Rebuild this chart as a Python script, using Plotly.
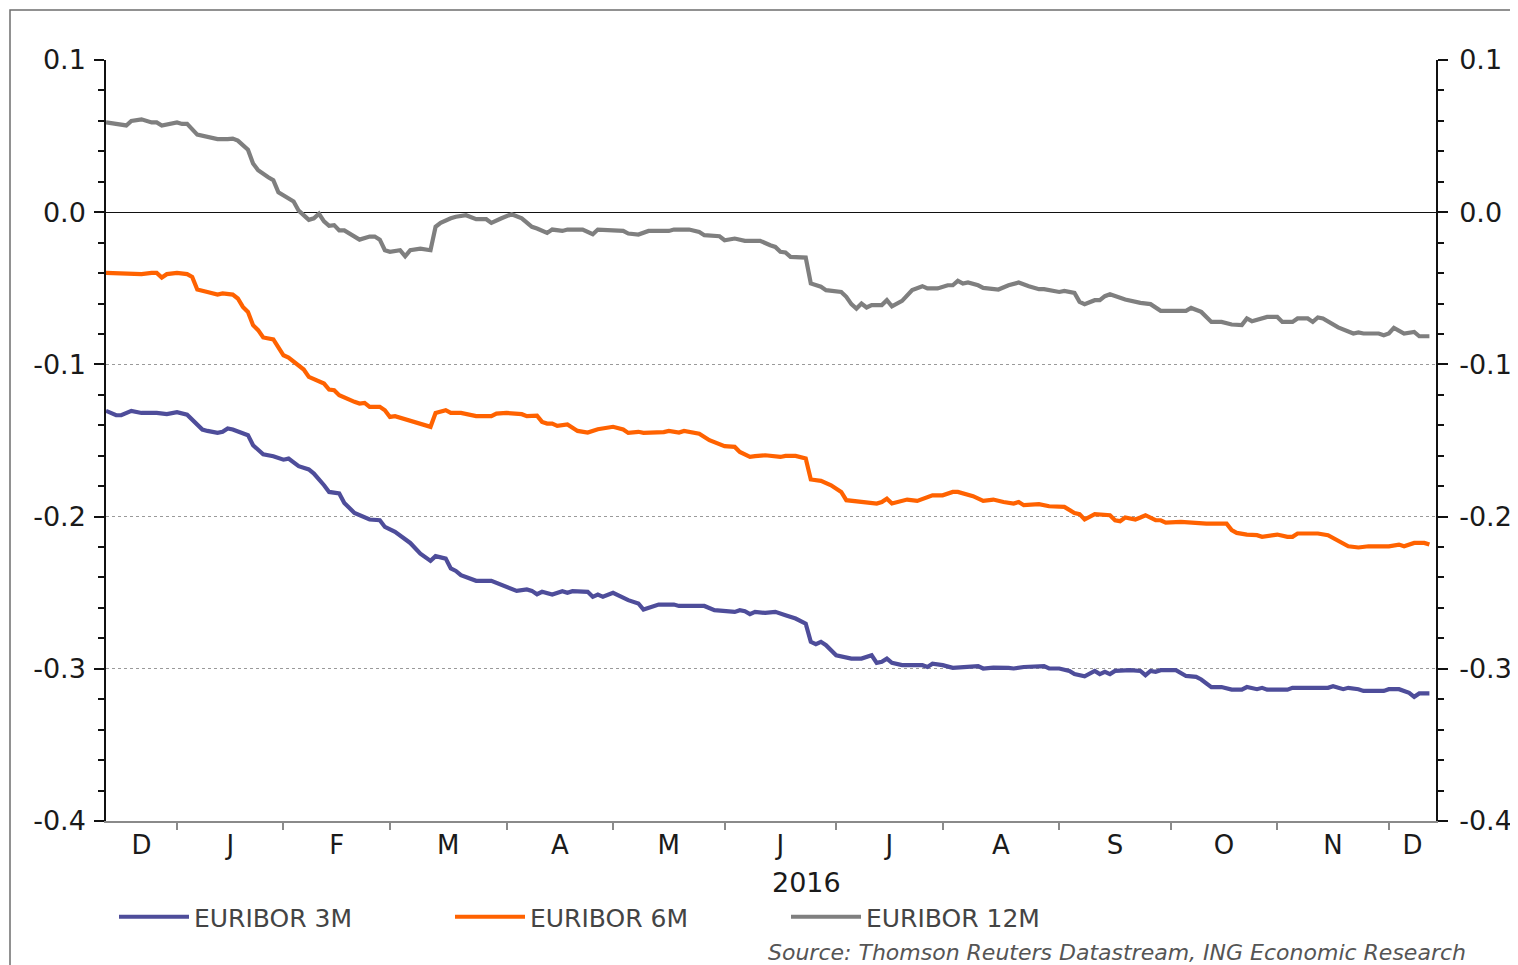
import pandas as pd
import plotly.graph_objects as go

# ---------------- data (business-day offsets from START, values in %) ----------------
START = "2015-12-14"
END_OFFSET = 262.3  # visible x range in business days

days_3m = [0, 2, 3, 5, 7, 10, 12, 14, 16, 17, 19, 20, 22, 23, 24, 25, 27, 28, 29, 31, 33, 35, 36, 38, 40, 41,
           43, 44, 46, 47, 49, 51, 52, 54, 55, 57, 59, 60, 62, 64, 65, 67, 68, 69, 70, 73, 76, 78, 81, 83, 84,
           85, 86, 88, 90, 91, 92, 95, 96, 97, 98, 100, 103, 105, 106, 109, 112, 113, 118, 120, 122, 124, 125,
           126, 127, 128, 130, 132, 134, 136, 138, 139, 140, 141, 142, 144, 147, 149, 151, 152, 153, 154, 155,
           157, 161, 162, 163, 165, 167, 172, 173, 175, 178, 179, 181, 185, 186, 188, 190, 191, 193, 195, 196,
           197, 198, 199, 202, 204, 205, 206, 207, 208, 211, 213, 215, 216, 218, 220, 222, 224, 225, 227, 228,
           229, 233, 234, 241, 242, 244, 245, 247, 248, 252, 253, 255, 257, 258, 259, 261]
vals_3m = [-0.1305, -0.1334, -0.1334, -0.1305, -0.1319, -0.1319, -0.1327, -0.1314, -0.1330, -0.1362, -0.1428,
           -0.1437, -0.1450, -0.1443, -0.1421, -0.1428, -0.1450, -0.1465, -0.1531, -0.1590, -0.1603, -0.1626,
           -0.1619, -0.1669, -0.1690, -0.1717, -0.1794, -0.1838, -0.1848, -0.1910, -0.1976, -0.2002, -0.2019,
           -0.2024, -0.2068, -0.2100, -0.2144, -0.2173, -0.2243, -0.2291, -0.2260, -0.2276, -0.2341, -0.2357,
           -0.2385, -0.2422, -0.2422, -0.2451, -0.2488, -0.2479, -0.2488, -0.2510, -0.2494, -0.2512, -0.2490,
           -0.2501, -0.2490, -0.2494, -0.2527, -0.2512, -0.2527, -0.2501, -0.2549, -0.2571, -0.2611, -0.2578,
           -0.2578, -0.2587, -0.2587, -0.2615, -0.2620, -0.2626, -0.2615, -0.2622, -0.2641, -0.2626, -0.2633,
           -0.2626, -0.2648, -0.2670, -0.2703, -0.2823, -0.2838, -0.2823, -0.2845, -0.2911, -0.2933, -0.2933,
           -0.2911, -0.2961, -0.2954, -0.2933, -0.2961, -0.2976, -0.2976, -0.2988, -0.2966, -0.2976, -0.2994,
           -0.2983, -0.2998, -0.2992, -0.2994, -0.2998, -0.2988, -0.2983, -0.2998, -0.2998, -0.3014, -0.3035,
           -0.3049, -0.3014, -0.3035, -0.3020, -0.3035, -0.3014, -0.3009, -0.3014, -0.3042, -0.3014, -0.3020,
           -0.3009, -0.3009, -0.3047, -0.3053, -0.3070, -0.3120, -0.3120, -0.3137, -0.3137, -0.3120, -0.3134,
           -0.3125, -0.3137, -0.3137, -0.3125, -0.3125, -0.3114, -0.3134, -0.3125, -0.3134, -0.3145, -0.3145,
           -0.3134, -0.3134, -0.3158, -0.3184, -0.3162, -0.3162]

days_6m = [0, 7, 9, 10, 11, 12, 14, 16, 17, 18, 20, 22, 23, 25, 26, 27, 28, 29, 30, 31, 33, 34, 35, 36, 37, 39,
           40, 42, 43, 44, 45, 46, 47, 49, 50, 51, 52, 54, 55, 56, 57, 59, 60, 62, 64, 65, 66, 67, 68, 70, 73,
           76, 77, 79, 82, 83, 85, 86, 87, 88, 89, 91, 93, 95, 97, 100, 102, 103, 105, 106, 110, 111, 113, 114,
           117, 119, 122, 124, 125, 127, 128, 130, 133, 134, 136, 138, 139, 141, 143, 145, 146, 148, 150, 152,
           153, 154, 155, 157, 158, 160, 162, 163, 165, 167, 168, 170, 171, 173, 175, 177, 179, 180, 181, 184,
           186, 189, 191, 192, 193, 195, 198, 199, 200, 201, 203, 204, 205, 207, 208, 209, 212, 217, 221, 222,
           223, 225, 227, 228, 231, 233, 234, 235, 239, 241, 243, 245, 247, 249, 253, 255, 256, 258, 260, 261]
vals_6m = [-0.0399, -0.0407, -0.0399, -0.0399, -0.0429, -0.0407, -0.0399, -0.0407, -0.0425, -0.0508, -0.0524,
           -0.0541, -0.0534, -0.0541, -0.0567, -0.0622, -0.0655, -0.0742, -0.0775, -0.0823, -0.0836, -0.0885,
           -0.0940, -0.0955, -0.0983, -0.1034, -0.1082, -0.1115, -0.1126, -0.1165, -0.1170, -0.1202, -0.1218,
           -0.1246, -0.1257, -0.1253, -0.1279, -0.1279, -0.1301, -0.1345, -0.1340, -0.1362, -0.1367, -0.1389,
           -0.1410, -0.1319, -0.1312, -0.1301, -0.1319, -0.1319, -0.1340, -0.1340, -0.1323, -0.1319, -0.1327,
           -0.1340, -0.1337, -0.1378, -0.1389, -0.1389, -0.1404, -0.1395, -0.1437, -0.1448, -0.1426, -0.1410,
           -0.1428, -0.1450, -0.1443, -0.1450, -0.1445, -0.1437, -0.1448, -0.1437, -0.1455, -0.1498, -0.1537,
           -0.1542, -0.1575, -0.1608, -0.1603, -0.1597, -0.1608, -0.1601, -0.1601, -0.1618, -0.1756, -0.1765,
           -0.1794, -0.1838, -0.1892, -0.1899, -0.1910, -0.1914, -0.1904, -0.1882, -0.1914, -0.1897, -0.1888,
           -0.1897, -0.1875, -0.1860, -0.1860, -0.1838, -0.1838, -0.1853, -0.1866, -0.1897, -0.1888, -0.1904,
           -0.1914, -0.1904, -0.1925, -0.1918, -0.1932, -0.1936, -0.1976, -0.1984, -0.2019, -0.1984, -0.1991,
           -0.2024, -0.2030, -0.2006, -0.2019, -0.2006, -0.1991, -0.2024, -0.2024, -0.2039, -0.2035, -0.2046,
           -0.2046, -0.2089, -0.2107, -0.2118, -0.2122, -0.2133, -0.2118, -0.2133, -0.2133, -0.2111, -0.2111,
           -0.2122, -0.2160, -0.2195, -0.2203, -0.2195, -0.2195, -0.2184, -0.2195, -0.2173, -0.2173, -0.2184]

days_12m = [0, 4, 5, 7, 9, 10, 11, 14, 15, 16, 18, 20, 22, 24, 25, 26, 27, 28, 29, 30, 32, 33, 34, 36, 37, 38,
            40, 41, 42, 43, 44, 45, 46, 47, 49, 50, 52, 53, 54, 55, 56, 58, 59, 60, 62, 64, 65, 66, 68, 69, 71,
            73, 75, 76, 78, 80, 82, 84, 85, 87, 88, 90, 91, 94, 96, 97, 102, 103, 105, 107, 111, 112, 115, 117,
            118, 121, 122, 124, 126, 129, 131, 132, 133, 134, 135, 138, 139, 141, 142, 144, 145, 146, 147, 148,
            149, 150, 151, 153, 154, 155, 157, 159, 161, 162, 164, 166, 167, 168, 169, 170, 172, 173, 175, 176,
            178, 180, 182, 184, 185, 188, 189, 191, 192, 193, 195, 196, 197, 198, 201, 202, 204, 206, 208, 213,
            214, 216, 218, 220, 222, 224, 225, 226, 228, 229, 231, 232, 234, 235, 237, 238, 239, 240, 243, 246,
            247, 248, 251, 252, 253, 254, 256, 258, 259, 261]
vals_12m = [0.0590, 0.0570, 0.0600, 0.0610, 0.0590, 0.0590, 0.0570, 0.0590, 0.0580, 0.0580, 0.0510, 0.0495,
            0.0480, 0.0480, 0.0484, 0.0470, 0.0440, 0.0410, 0.0320, 0.0276, 0.0230, 0.0210, 0.0130, 0.0090,
            0.0070, 0.0010, -0.0050, -0.0040, -0.0010, -0.0060, -0.0090, -0.0085, -0.0120, -0.0120, -0.0160,
            -0.0180, -0.0160, -0.0160, -0.0180, -0.0250, -0.0260, -0.0250, -0.0290, -0.0250, -0.0240, -0.0250,
            -0.0096, -0.0070, -0.0040, -0.0030, -0.0020, -0.0046, -0.0046, -0.0070, -0.0040, -0.0013, -0.0040,
            -0.0096, -0.0107, -0.0136, -0.0114, -0.0123, -0.0114, -0.0114, -0.0145, -0.0114, -0.0123, -0.0140,
            -0.0147, -0.0123, -0.0123, -0.0114, -0.0114, -0.0130, -0.0151, -0.0158, -0.0184, -0.0173, -0.0188,
            -0.0188, -0.0217, -0.0228, -0.0260, -0.0265, -0.0294, -0.0298, -0.0468, -0.0490, -0.0512, -0.0520,
            -0.0524, -0.0556, -0.0604, -0.0633, -0.0600, -0.0626, -0.0610, -0.0610, -0.0578, -0.0618, -0.0583,
            -0.0512, -0.0486, -0.0501, -0.0501, -0.0480, -0.0480, -0.0451, -0.0469, -0.0462, -0.0480, -0.0497,
            -0.0501, -0.0508, -0.0480, -0.0462, -0.0486, -0.0506, -0.0506, -0.0524, -0.0517, -0.0530, -0.0589,
            -0.0604, -0.0578, -0.0578, -0.0552, -0.0539, -0.0574, -0.0583, -0.0596, -0.0604, -0.0648, -0.0648,
            -0.0629, -0.0655, -0.0721, -0.0721, -0.0738, -0.0742, -0.0698, -0.0716, -0.0698, -0.0688, -0.0688,
            -0.0721, -0.0721, -0.0698, -0.0698, -0.0721, -0.0692, -0.0698, -0.0757, -0.0797, -0.0790, -0.0797,
            -0.0797, -0.0808, -0.0797, -0.0760, -0.0797, -0.0787, -0.0815, -0.0815]

series_names = ["EURIBOR 3M", "EURIBOR 6M", "EURIBOR 12M"]
series_colors = ["#4e4d9a", "#ff6200", "#7f7f7f"]
series_axes = ["y", "y", "y2"]  # y2 mirrors y exactly (right-hand scale)

y_ticks = [-0.4, -0.3, -0.2, -0.1, 0.0, 0.1]
y_ticktext = ["-0.4", "-0.3", "-0.2", "-0.1", "0.0", "0.1"]
year_label = "2016"
source_text = "Source: Thomson Reuters Datastream, ING Economic Research"

# ---------------- helpers ----------------
bd = pd.bdate_range(START, periods=300)


def to_date(f):
    i = int(f)
    return bd[i] + pd.Timedelta(days=f - i)


# month boundaries and label centres (business-day positions)
n_vis = int(END_OFFSET) + 1
bounds = [0]
for i in range(1, n_vis):
    if bd[i].month != bd[i - 1].month:
        bounds.append(i)
edges = bounds + [END_OFFSET]
month_mid = [to_date((edges[k] + edges[k + 1]) / 2) for k in range(len(bounds))]
month_letter = [bd[b].strftime("%b")[0] for b in bounds]
month_start = [bd[b] for b in bounds[1:]]
year_start = next(b for b in bounds if bd[b].year == 2016)

FONT = "DejaVu Sans"

fig = go.Figure()
for name, color, ax, d, v in zip(series_names, series_colors, series_axes,
                                 [days_3m, days_6m, days_12m], [vals_3m, vals_6m, vals_12m]):
    fig.add_trace(go.Scatter(x=[bd[i] for i in d], y=v, mode="lines", name=name, yaxis=ax,
                             line=dict(color=color, width=4.2)))

# the page body has an 8px margin, so the figure is drawn 8px in from the window corner
OFF = 8
W, H = 1518 - OFF, 965 - OFF
ml, mt = 106 - OFF, 60 - OFF
pw, ph = 1330, 761
mr, mb = W - ml - pw, H - mt - ph


def py(pix_y):  # window pixel row -> paper y
    return (60 + ph - pix_y) / ph


def px(pix_x):  # window pixel column -> paper x
    return (pix_x - 106) / pw


yax_common = dict(
    range=[-0.4, 0.1], tickmode="array", tickvals=y_ticks, ticktext=y_ticktext,
    ticks="outside", ticklen=10, tickwidth=1.5, tickcolor="#111",
    showline=True, linecolor="#111", linewidth=1.5,
    tickfont=dict(family=FONT, size=27, color="#1a1a1a"),
    minor=dict(dtick=0.02, tick0=0, ticks="outside", ticklen=6, tickwidth=1.5,
               tickcolor="#111", showgrid=False),
    fixedrange=True, automargin=False,
)

fig.update_layout(
    width=W, height=H, autosize=False,
    margin=dict(l=ml, r=mr, t=mt, b=mb, pad=0),
    paper_bgcolor="white", plot_bgcolor="white",
    font=dict(family=FONT, color="#222"),
    xaxis=dict(
        type="date", range=[to_date(0), to_date(END_OFFSET)],
        rangebreaks=[dict(bounds=["sat", "mon"])],
        tickmode="array", tickvals=month_mid, ticktext=month_letter, ticks="",
        showline=True, linecolor="#8a8a8a", linewidth=2, showgrid=False, zeroline=False,
        tickfont=dict(family=FONT, size=26, color="#1a1a1a"), ticklabelstandoff=0,
        automargin=False,
        minor=dict(tickmode="array", tickvals=month_start, ticks="outside", ticklen=7,
                   tickwidth=1.5, tickcolor="#8a8a8a", showgrid=False),
    ),
    yaxis=dict(**yax_common, side="left", showgrid=True, gridcolor="#9a9a9a",
               griddash="dot", gridwidth=1, zeroline=True, zerolinecolor="#111",
               zerolinewidth=1.3, ticklabelstandoff=3),
    yaxis2=dict(**yax_common, side="right", overlaying="y", anchor="x",
                showgrid=False, zeroline=False, ticklabelstandoff=6),
    legend=dict(orientation="h", x=px(114), xanchor="left",
                y=py(917), yanchor="middle", traceorder="normal",
                entrywidth=251, entrywidthmode="pixels", itemwidth=70,
                font=dict(family=FONT, size=25, color="#444"), bgcolor="rgba(0,0,0,0)"),
    showlegend=True,
    annotations=[
        dict(text=year_label, xref="x", yref="paper", x=to_date((year_start + END_OFFSET) / 2),
             y=py(882), xanchor="center", yanchor="middle", showarrow=False,
             font=dict(family=FONT, size=27, color="#1a1a1a")),
        dict(text=f"<i>{source_text}</i>", xref="paper", yref="paper", x=px(1468),
             y=py(953), xanchor="right", yanchor="middle", showarrow=False,
             font=dict(family=FONT, size=22, color="#555")),
    ],
    shapes=[dict(type="rect", xref="paper", yref="paper", x0=px(10), x1=px(1560),
                 y0=py(1000), y1=py(10),
                 line=dict(color="#6e6e6e", width=1.5), fillcolor="rgba(0,0,0,0)", layer="below")],
)

fig.write_html("out.html")
